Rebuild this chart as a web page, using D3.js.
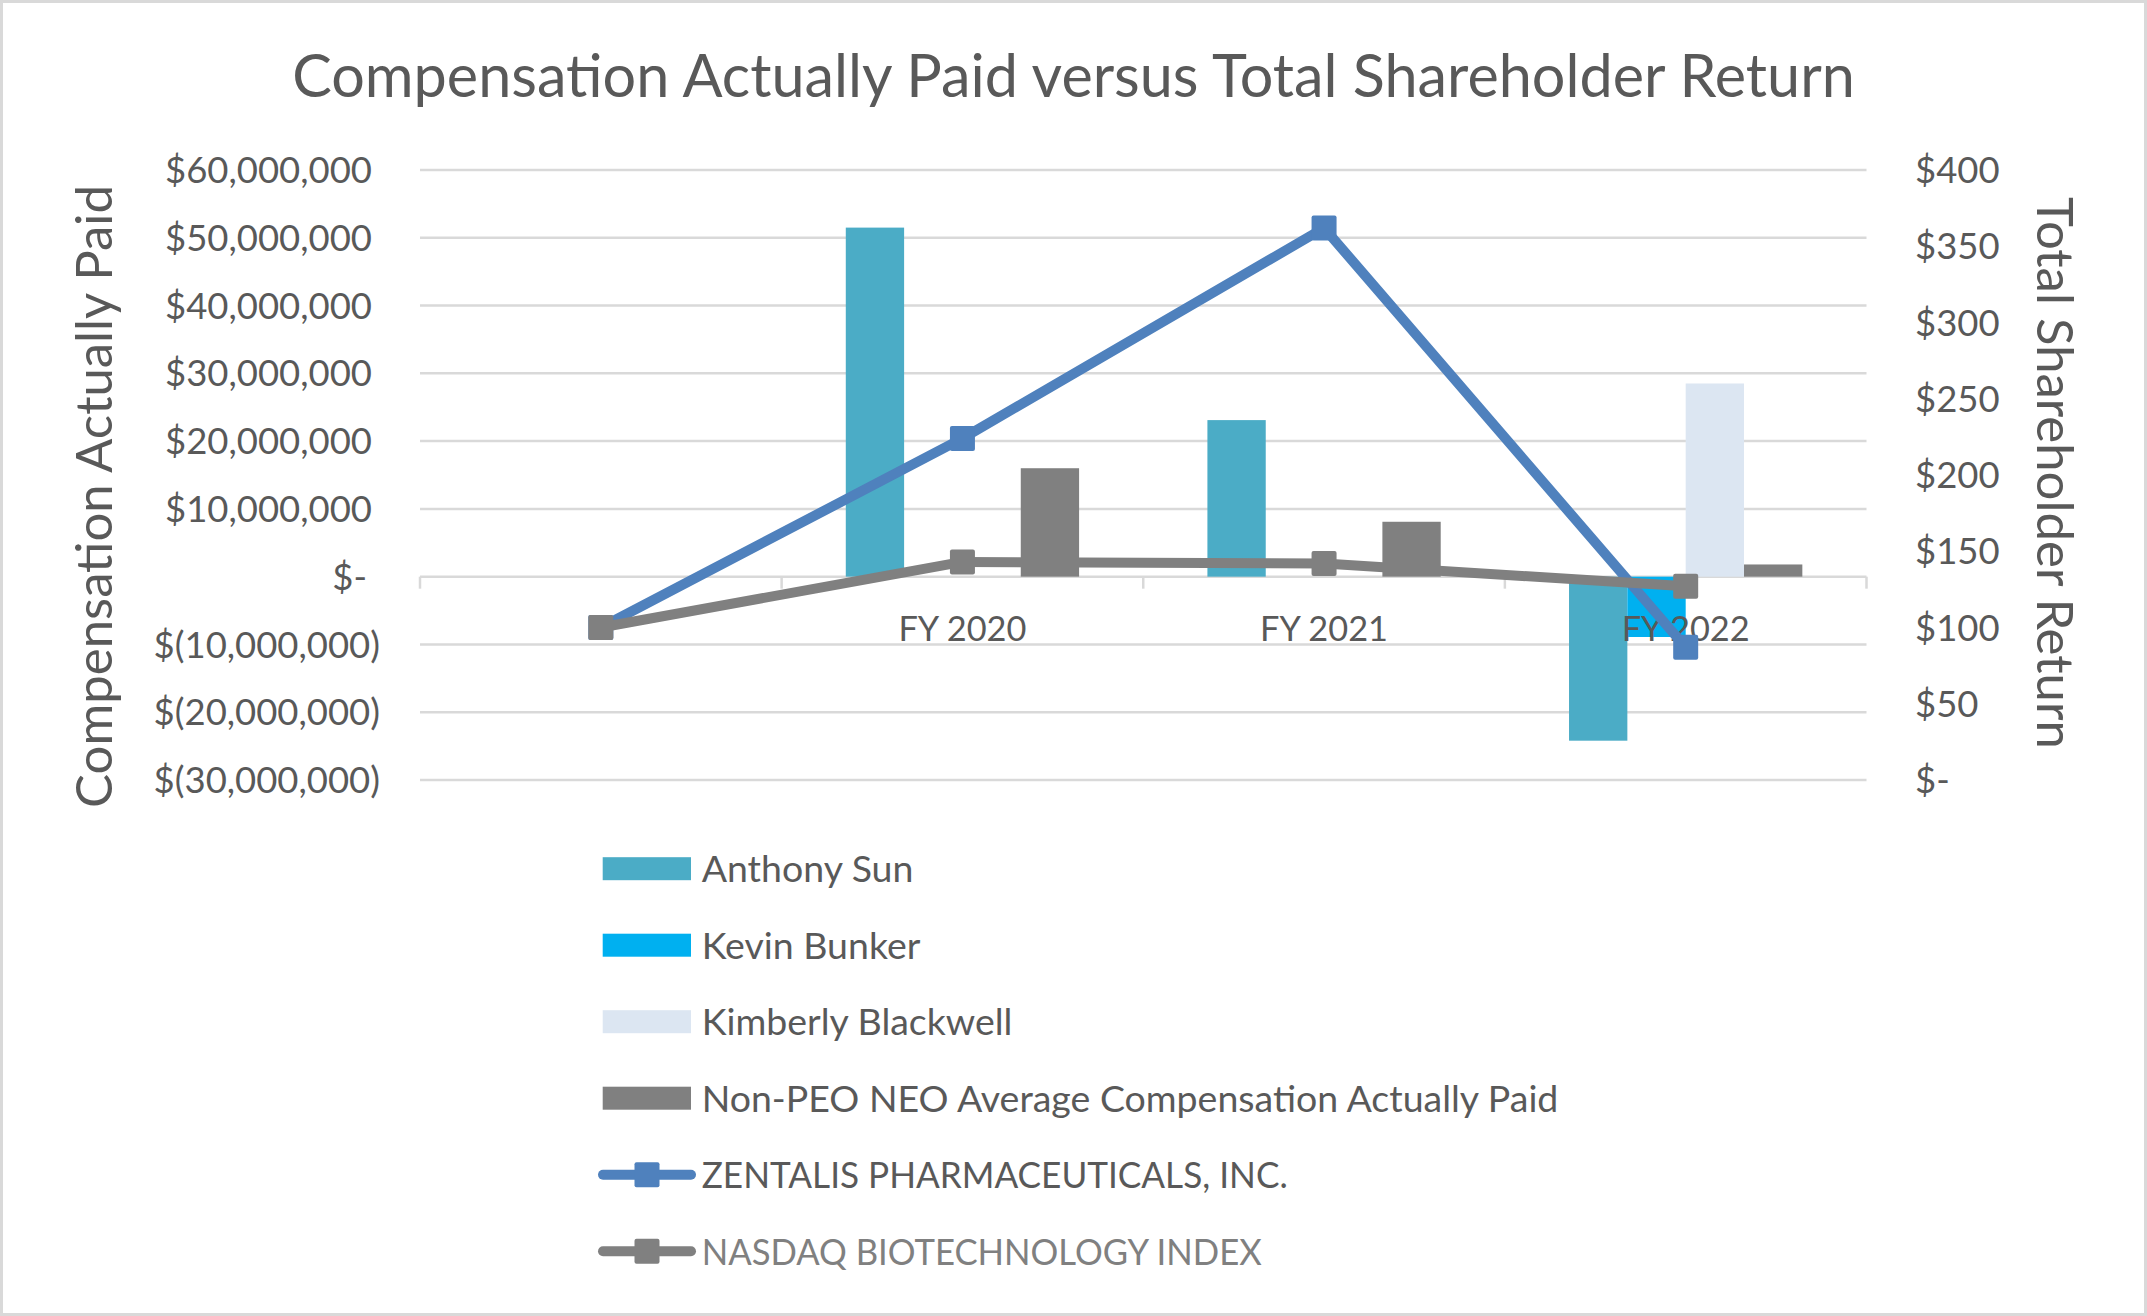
<!DOCTYPE html>
<html>
<head>
<meta charset="utf-8">
<script src="https://cdn.jsdelivr.net/npm/d3@7"></script>
<style>
  html, body { margin: 0; padding: 0; background: #fff; }
  svg { display: block; }
  text { font-family: Lato, "Open Sans", sans-serif; fill: #595959; }
</style>
</head>
<body>
<svg id="chart" width="2147" height="1316"></svg>
<script>
// ---------------- data ----------------
const categories = ["", "FY 2020", "FY 2021", "FY 2022"];
const anthonySun        = [null, 51500000, 23100000, -24200000];
const kevinBunker       = [null, null, null, -8900000];
const kimberlyBlackwell = [null, null, null, 28500000];
const nonPeoAverage     = [null, 16000000, 8100000, 1800000];
const zentalisTSR       = [100, 224, 362, 87];
const nasdaqTSR         = [100, 143, 142, 127];
const leftTickValues  = [-30000000, -20000000, -10000000, 0, 10000000, 20000000, 30000000, 40000000, 50000000, 60000000];
const rightTickValues = [0, 50, 100, 150, 200, 250, 300, 350, 400];
const barSeriesNames  = ["Anthony Sun", "Kevin Bunker", "Kimberly Blackwell", "Non-PEO NEO Average Compensation Actually Paid"];
const lineSeriesNames = ["ZENTALIS PHARMACEUTICALS, INC.", "NASDAQ BIOTECHNOLOGY INDEX"];
const titleText = "Compensation Actually Paid versus Total Shareholder Return";
const leftAxisTitle = "Compensation Actually Paid";
const rightAxisTitle = "Total Shareholder Return";

// ---------------- styles ----------------
const barColors  = ["#4BACC6", "#00B0F0", "#DCE6F2", "#808080"];
const lineColors = ["#4F81BD", "#808080"];
const textColor = "#595959";
const gridColor = "#D9D9D9";

const barSeries = [anthonySun, kevinBunker, kimberlyBlackwell, nonPeoAverage];
const lineSeries = [zentalisTSR, nasdaqTSR];

const W = 2147, H = 1316;
const plot = { left: 420, right: 1866.5, top: 170, bottom: 780 };

const svg = d3.select("#chart");

// border
svg.append("rect").attr("x", 1.5).attr("y", 1.5).attr("width", W - 3).attr("height", H - 3)
  .attr("fill", "#fff").attr("stroke", gridColor).attr("stroke-width", 3);

// helper: font size so that a text has a given width
function fitSize(str, target) {
  const t = svg.append("text").attr("font-size", 100).text(str);
  const w = t.node().getComputedTextLength();
  t.remove();
  return 100 * target / w;
}

// scales
const x0 = d3.scaleBand().domain(categories.map((c, i) => i)).range([plot.left, plot.right]).paddingInner(0).paddingOuter(0);
const x1 = d3.scaleBand().domain(barSeriesNames).range([0, x0.bandwidth()]).paddingInner(0).paddingOuter(1.1);
const yL = d3.scaleLinear().domain([-30000000, 60000000]).range([plot.bottom, plot.top]);
const yR = d3.scaleLinear().domain([0, 400]).range([plot.bottom, plot.top]);
const xc = i => x0(i) + x0.bandwidth() / 2;

// gridlines
svg.append("g").selectAll("line").data(leftTickValues).join("line")
  .attr("x1", plot.left).attr("x2", plot.right)
  .attr("y1", d => yL(d)).attr("y2", d => yL(d))
  .attr("stroke", gridColor).attr("stroke-width", 2.5);

// category axis tick marks (at band boundaries)
const boundaries = categories.map((c, i) => x0(i)).concat([plot.right]);
svg.append("g").selectAll("line").data(boundaries).join("line")
  .attr("x1", d => d).attr("x2", d => d)
  .attr("y1", yL(0)).attr("y2", yL(0) + 12)
  .attr("stroke", gridColor).attr("stroke-width", 2.5);

// bars
const barG = svg.append("g");
barSeries.forEach((vals, s) => {
  barG.append("g").selectAll("rect")
    .data(vals.map((v, i) => ({ v, i })).filter(d => d.v !== null))
    .join("rect")
    .attr("x", d => x0(d.i) + x1(barSeriesNames[s]))
    .attr("width", x1.bandwidth())
    .attr("y", d => Math.min(yL(d.v), yL(0)))
    .attr("height", d => Math.abs(yL(d.v) - yL(0)))
    .attr("fill", barColors[s]);
});

// left axis labels
const tickSize = fitSize("$60,000,000", 207);
function leftFmt(v) {
  if (v === 0) return "$-";
  if (v < 0) return "$(" + d3.format(",")(-v) + ")";
  return "$" + d3.format(",")(v);
}
svg.append("g").selectAll("text").data(leftTickValues).join("text")
  .attr("x", d => d === 0 ? 367 : (d < 0 ? 380 : 372))
  .attr("y", d => yL(d)).attr("dy", "0.36em")
  .attr("text-anchor", "end").attr("font-size", tickSize)
  .text(leftFmt);

// right axis labels
svg.append("g").selectAll("text").data(rightTickValues).join("text")
  .attr("x", 1915).attr("y", d => yR(d)).attr("dy", "0.36em")
  .attr("text-anchor", "start").attr("font-size", tickSize)
  .text(d => d === 0 ? "$-" : "$" + d);

// category labels
const catSize = fitSize("FY 2022", 128);
svg.append("g").selectAll("text").data(categories.map((c, i) => ({ c, i }))).join("text")
  .attr("x", d => xc(d.i)).attr("y", 629).attr("dy", "0.36em")
  .attr("text-anchor", "middle").attr("font-size", catSize)
  .text(d => d.c);

// lines
const lineGen = d3.line().x((d, i) => xc(i)).y(d => yR(d));
const MS = 25;
lineSeries.forEach((vals, s) => {
  const g = svg.append("g");
  g.append("path").datum(vals).attr("d", lineGen)
    .attr("fill", "none").attr("stroke", lineColors[s]).attr("stroke-width", 10)
    .attr("stroke-linejoin", "round").attr("stroke-linecap", "round");
  g.selectAll("rect").data(vals).join("rect")
    .attr("x", (d, i) => xc(i) - MS / 2).attr("y", d => yR(d) - MS / 2)
    .attr("width", MS).attr("height", MS).attr("rx", 2)
    .attr("fill", lineColors[s]);
});

// title
const titleSize = fitSize(titleText, 1563);
svg.append("text").attr("x", 1073.5).attr("y", 97).attr("text-anchor", "middle")
  .attr("font-size", titleSize).text(titleText);

// axis titles
const axisTitleSize = fitSize(leftAxisTitle, 623);
svg.append("text").attr("transform", "translate(112,496.5) rotate(-90)")
  .attr("text-anchor", "middle").attr("font-size", axisTitleSize).text(leftAxisTitle);
svg.append("text").attr("transform", "translate(2037,473) rotate(90)")
  .attr("text-anchor", "middle").attr("font-size", axisTitleSize).text(rightAxisTitle);

// legend
const legendSize = fitSize(barSeriesNames[3], 857);
const legendRows = [868.7, 945.2, 1021.7, 1098.2, 1174.7, 1251.2];
const lineLegendWidths = [586, 560];
const lg = svg.append("g");
barSeriesNames.forEach((name, s) => {
  const cy = legendRows[s];
  lg.append("rect").attr("x", 602.7).attr("y", cy - 11.5).attr("width", 88.3).attr("height", 23)
    .attr("fill", barColors[s]);
  lg.append("text").attr("x", 701.7).attr("y", cy).attr("dy", "0.36em")
    .attr("font-size", legendSize).text(name);
});
lineSeriesNames.forEach((name, s) => {
  const cy = legendRows[4 + s];
  lg.append("line").attr("x1", 603).attr("x2", 691).attr("y1", cy).attr("y2", cy)
    .attr("stroke", lineColors[s]).attr("stroke-width", 10).attr("stroke-linecap", "round");
  lg.append("rect").attr("x", 647 - MS / 2).attr("y", cy - MS / 2).attr("width", MS).attr("height", MS)
    .attr("rx", 2).attr("fill", lineColors[s]);
  lg.append("text").attr("x", 701.7).attr("y", cy).attr("dy", "0.36em")
    .attr("font-size", legendSize)
    .attr("textLength", lineLegendWidths[s]).attr("lengthAdjust", "spacingAndGlyphs")
    .style("fill", s === 1 ? "#808080" : textColor).text(name);
});
</script>
</body>
</html>
